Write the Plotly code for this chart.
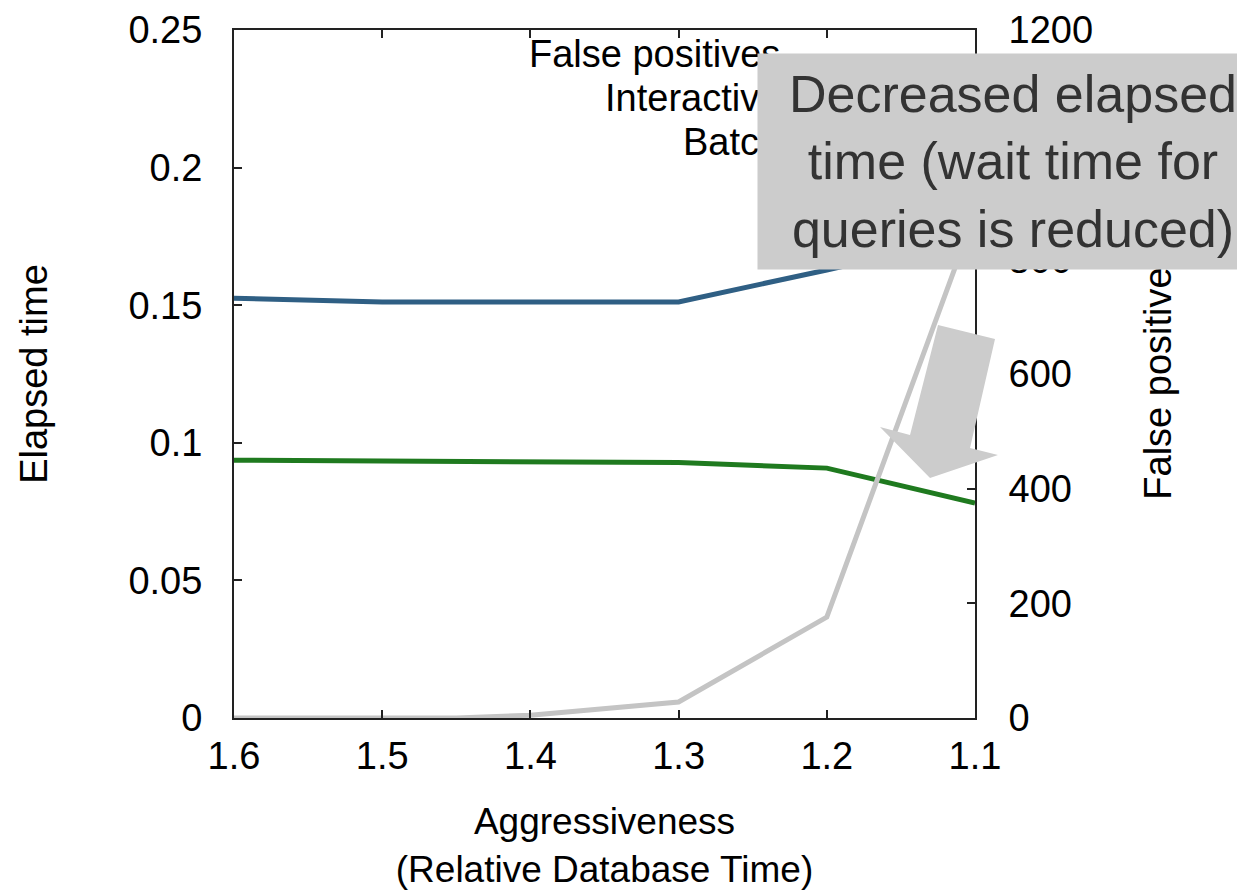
import plotly.graph_objects as go

# aggressiveness (relative database time)
aggr = [1.6, 1.5, 1.4, 1.3, 1.2, 1.1]
interactive = [0.1525, 0.1512, 0.1512, 0.1512, 0.1628, 0.175]
batch = [0.0937, 0.0935, 0.0934, 0.0928, 0.0908, 0.0781]

fp_aggr = [1.6, 1.5, 1.45, 1.4, 1.3, 1.2, 1.1]
false_pos = [0, 0, 0, 5, 28, 176, 880]

legend_names = ["False positives", "Interactive", "Batch"]

FONT = "Liberation Sans, Arial, sans-serif"
# page body has an 8px margin, so the figure is drawn 8px smaller to fit the window
W, H = 1237, 882
L, R, T, B = 226, 270, 22, 172
pw, ph = W - L - R, H - T - B


def px(x, y):
    # window pixel position -> paper coords (plot area sits at 234..975, 30..718)
    return (x - 234) / pw, (718 - y) / ph


fig = go.Figure()
fig.add_trace(go.Scatter(x=fp_aggr, y=false_pos, name="False positives", yaxis="y2",
                         mode="lines", line=dict(color="#c4c4c4", width=5)))
fig.add_trace(go.Scatter(x=aggr, y=interactive, name="Interactive",
                         mode="lines", line=dict(color="#2f5f84", width=5)))
fig.add_trace(go.Scatter(x=aggr, y=batch, name="Batch",
                         mode="lines", line=dict(color="#1f7a1f", width=5)))

# big block arrow
arrow_px = [(938, 325), (995, 339), (970, 448), (998, 455), (930, 478), (880, 427), (910, 435)]
pts = [px(x, y) for x, y in arrow_px]
path = "M " + " L ".join(f"{a:.4f},{b:.4f}" for a, b in pts) + " Z"
fig.add_shape(type="path", path=path, xref="paper", yref="paper",
              fillcolor="#cccccc", line=dict(width=0), layer="above")

annotations = []
for i, name in enumerate(legend_names):
    ax, ay = px(782, 54 + 44 * i)
    annotations.append(dict(text=name, xref="paper", yref="paper", x=ax, y=ay,
                            xanchor="right", yanchor="middle", showarrow=False,
                            font=dict(size=38, color="black")))

bx, by = px(757, 53)
annotations.append(dict(
    text="Decreased elapsed<br>time (wait time for<br>queries is reduced)",
    xref="paper", yref="paper", x=bx, y=by, xanchor="left", yanchor="top",
    showarrow=False, bgcolor="#cccccc", width=500, height=205, borderpad=5,
    align="center", font=dict(size=52, color="#333333")))

axis_common = dict(showgrid=False, zeroline=False, showline=True, linecolor="#222222",
                   linewidth=2, ticks="inside", ticklen=8, tickcolor="#222222",
                   tickwidth=1.5, tickfont=dict(size=38, color="black"),
                   automargin=False)

fig.update_layout(
    width=W, height=H,
    margin=dict(l=L, r=R, t=T, b=B),
    paper_bgcolor="white", plot_bgcolor="white",
    font=dict(family=FONT, color="black"),
    showlegend=False,
    xaxis=dict(range=[1.6, 1.1], dtick=0.1, tick0=1.1, mirror="ticks",
               ticklabelstandoff=3,
               title=dict(text="Aggressiveness<br>(Relative Database Time)",
                          font=dict(size=37), standoff=35),
               **axis_common),
    yaxis=dict(range=[0, 0.25], dtick=0.05, ticklabelstandoff=22,
               title=dict(text="Elapsed time", font=dict(size=38), standoff=69),
               **axis_common),
    yaxis2=dict(range=[0, 1200], dtick=200, overlaying="y", side="right",
                ticklabelstandoff=24,
                title=dict(text="False positives", font=dict(size=38), standoff=52),
                **axis_common),
    annotations=annotations,
)

fig.write_html("out.html")
